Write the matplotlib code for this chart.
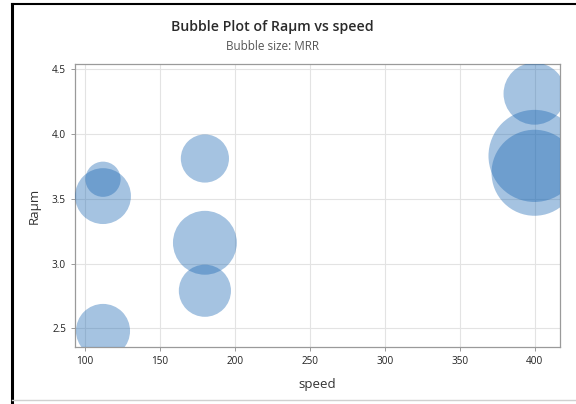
import matplotlib
matplotlib.use("Agg")
import matplotlib.pyplot as plt
import numpy as np

# data
speed = [112, 112, 112, 180, 180, 180, 400, 400, 400]
ra = [3.65, 3.52, 2.48, 3.81, 3.16, 2.79, 4.31, 3.83, 3.70]
mrr = [3.1, 7.8, 7.3, 5.8, 10.2, 6.8, 9.6, 21.2, 18.5]

xticks = [100, 150, 200, 250, 300, 350, 400]
yticks = [2.5, 3.0, 3.5, 4.0, 4.5]

plt.rcParams['font.family'] = ['Open Sans', 'DejaVu Sans']

fig = plt.figure(figsize=(5.76, 4.04), dpi=100)
ax = fig.add_axes([75/576, 1 - 347/404, 485/576, 283/404])

# bubble radius in px ~ 10*sqrt(MRR); 1 px = 0.72 pt
sizes = [(2 * 0.72 * 10 * np.sqrt(m)) ** 2 for m in mrr]
sc = ax.scatter(speed, ra, s=sizes, color='#1865b2', alpha=0.39, linewidths=0, zorder=3)
sc.set_clip_path(ax.patch)

ax.set_xlim(93.3, 417.0)
ax.set_ylim(2.356, 4.539)
ax.set_xticks(xticks)
ax.set_yticks(yticks)
ax.set_yticklabels(['%.1f' % t for t in yticks])
ax.grid(True, color='#e3e3e3', linewidth=0.8, zorder=0)
ax.set_axisbelow(True)
for sp in ax.spines.values():
    sp.set_color('#9a9a9a')
    sp.set_linewidth(0.9)
ax.tick_params(labelsize=7.2, colors='#222222', length=3, width=0.7)
ax.tick_params(color='#9a9a9a')

ax.set_xlabel('speed', fontsize=9.5, color='#333333', labelpad=8)
ax.set_ylabel('Raμm', fontsize=9.5, color='#333333', labelpad=8)

fig.text(272/576, 1 - 27/404, 'Bubble Plot of Raμm vs speed', ha='center', va='center',
         fontsize=10.2, color='#2a2a2a', fontweight='semibold')
fig.text(272/576, 1 - 46/404, 'Bubble size: MRR', ha='center', va='center',
         fontsize=8.5, color='#555555')

# frame lines of the screenshot
fig.add_artist(plt.Line2D([12/576, 12/576], [0, 1 - 4/404], color='black', linewidth=2.2))
fig.add_artist(plt.Line2D([12/576, 1], [1 - 4/404, 1 - 4/404], color='black', linewidth=1.5))
fig.add_artist(plt.Line2D([12/576, 1], [1 - 400/404, 1 - 400/404], color='#d0d0d0', linewidth=1))

fig.savefig('out.png', dpi=100)
